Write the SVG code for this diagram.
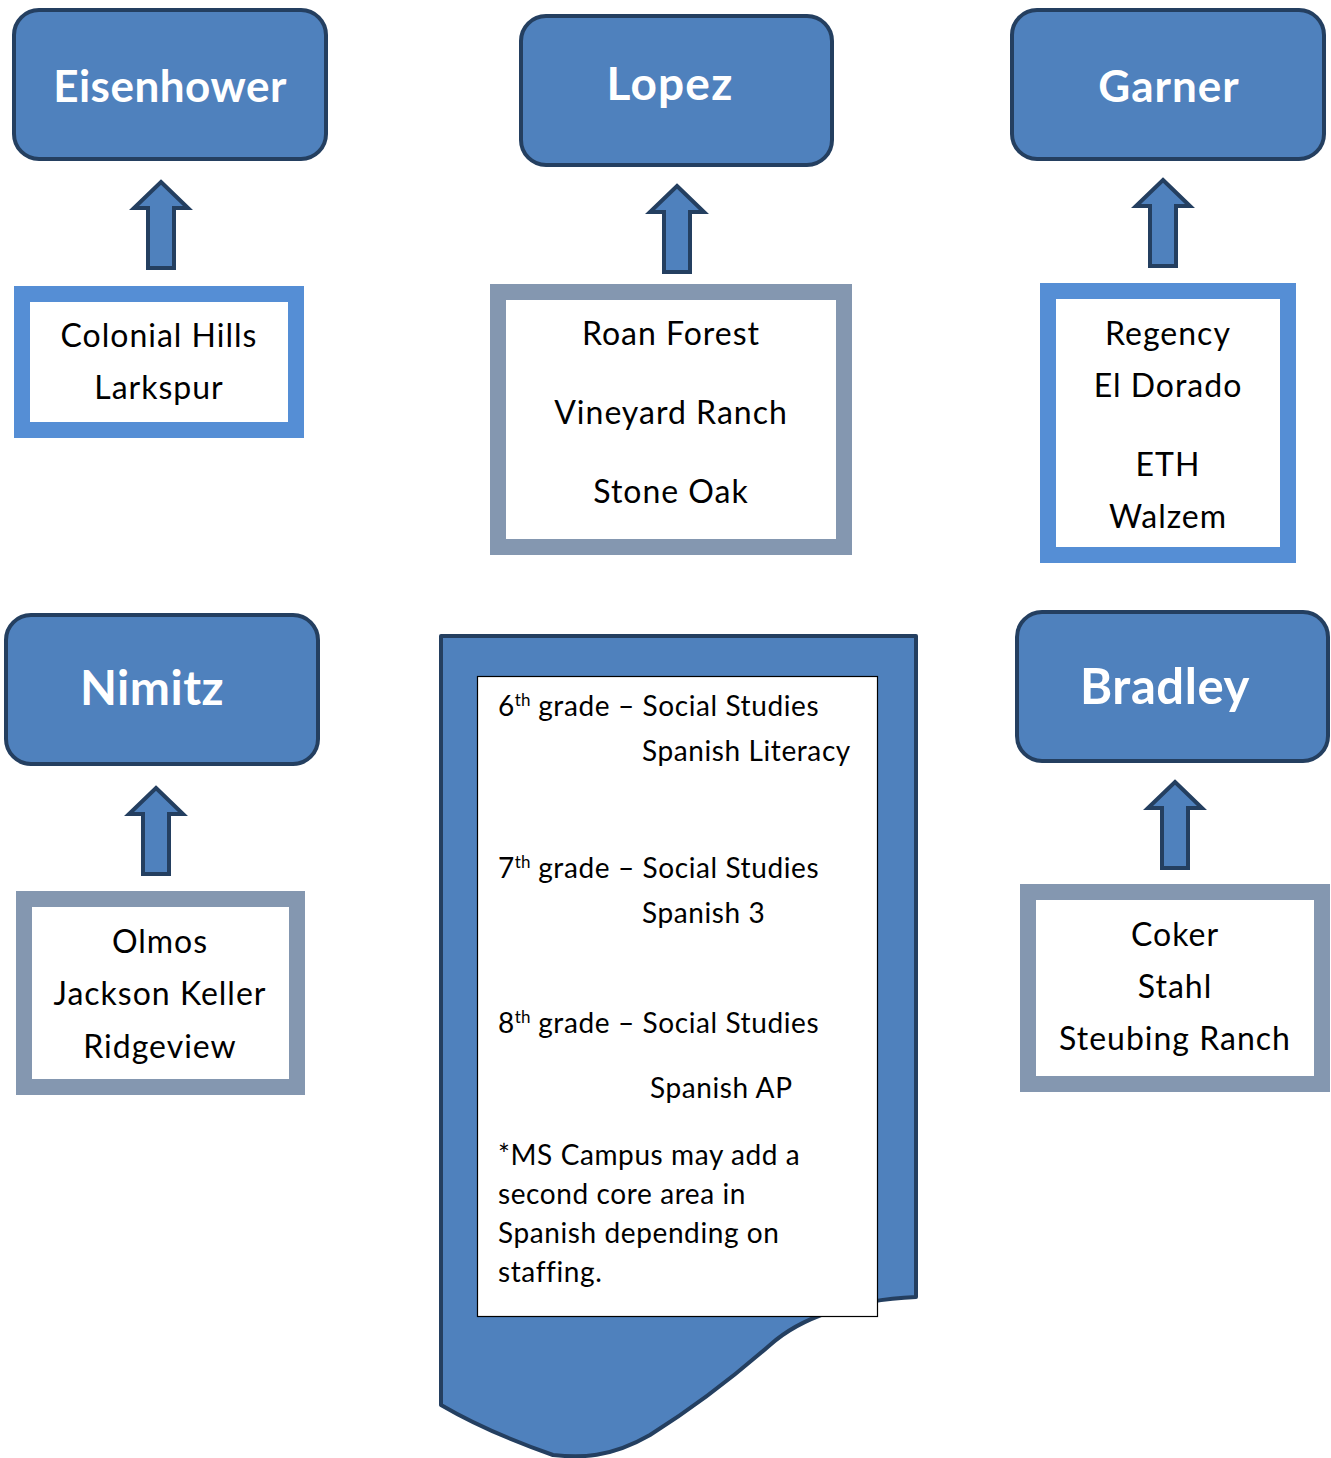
<svg xmlns="http://www.w3.org/2000/svg" width="1331" height="1458" viewBox="0 0 1331 1458">
<style>
.hub{fill:#4F81BD;stroke:#243F60;stroke-width:4}
.title{font-family:Lato,"Open Sans",sans-serif;font-weight:bold;fill:#fff;text-anchor:middle}
.arrow{fill:#4F81BD;stroke:#243F60;stroke-width:4;stroke-linejoin:miter}
.lb{fill:#fff;stroke:#558ED5;stroke-width:16}
.gb{fill:#fff;stroke:#8497B0;stroke-width:16}
.lt{font-family:Lato,"Open Sans",sans-serif;font-size:32px;letter-spacing:1px;fill:#000;text-anchor:middle}
.dt{font-family:Lato,"Open Sans",sans-serif;font-size:28px;letter-spacing:0.6px;fill:#000}
.sup{font-size:17px;letter-spacing:0}
</style>
<defs>
<path id="arr" d="M0,0 L27,26 L13,26 L13,86 L-13,86 L-13,26 L-27,26 Z"/>
</defs>
<rect width="1331" height="1458" fill="#fff"/>

<g id="eisenhower">
<rect class="hub" x="14" y="10" width="312" height="149" rx="25"/>
<text class="title" x="170" y="102" font-size="44" letter-spacing="0.5">Eisenhower</text>
</g>
<g id="lopez">
<rect class="hub" x="521" y="16" width="311" height="149" rx="25"/>
<text class="title" x="670" y="100" font-size="46" letter-spacing="1.2">Lopez</text>
</g>
<g id="garner">
<rect class="hub" x="1012" y="10" width="312" height="149" rx="25"/>
<text class="title" x="1169" y="102" font-size="44" letter-spacing="1">Garner</text>
</g>
<g id="nimitz">
<rect class="hub" x="6" y="615" width="312" height="149" rx="25"/>
<text class="title" x="152" y="705" font-size="48" letter-spacing="0.5">Nimitz</text>
</g>
<g id="bradley">
<rect class="hub" x="1017" y="612" width="311" height="149" rx="25"/>
<text class="title" x="1165" y="704" font-size="49" letter-spacing="0.6">Bradley</text>
</g>

<g id="connectors">
<use href="#arr" class="arrow" transform="translate(161,182)"/>
<use href="#arr" class="arrow" transform="translate(677,186)"/>
<use href="#arr" class="arrow" transform="translate(1163,180)"/>
<use href="#arr" class="arrow" transform="translate(156,788)"/>
<use href="#arr" class="arrow" transform="translate(1175,782)"/>
</g>

<g id="eisenhower-feeders">
<rect class="lb" x="22" y="294" width="274" height="136"/>
<text class="lt" x="159" y="347">Colonial Hills</text>
<text class="lt" x="159" y="399">Larkspur</text>
</g>
<g id="lopez-feeders">
<rect class="gb" x="498" y="292" width="346" height="255"/>
<text class="lt" x="671" y="345">Roan Forest</text>
<text class="lt" x="671" y="424">Vineyard Ranch</text>
<text class="lt" x="671" y="503">Stone Oak</text>
</g>
<g id="garner-feeders">
<rect class="lb" x="1048" y="291" width="240" height="264"/>
<text class="lt" x="1168" y="345">Regency</text>
<text class="lt" x="1168" y="397">El Dorado</text>
<text class="lt" x="1168" y="476">ETH</text>
<text class="lt" x="1168" y="528">Walzem</text>
</g>
<g id="nimitz-feeders">
<rect class="gb" x="24" y="899" width="273" height="188"/>
<text class="lt" x="160" y="953">Olmos</text>
<text class="lt" x="160" y="1005">Jackson Keller</text>
<text class="lt" x="160" y="1058">Ridgeview</text>
</g>
<g id="bradley-feeders">
<rect class="gb" x="1028" y="892" width="294" height="192"/>
<text class="lt" x="1175" y="946">Coker</text>
<text class="lt" x="1175" y="998">Stahl</text>
<text class="lt" x="1175" y="1050">Steubing Ranch</text>
</g>

<g id="courses">
<path d="M441,636 L916,636 L916,1297 C850,1300 800,1318 770,1345 C730,1380 690,1410 650,1435 C610,1458 580,1458 553,1455 C510,1440 470,1422 441,1405 Z" fill="#4F81BD" stroke="#243F60" stroke-width="4" stroke-linejoin="round"/>
<rect x="477.5" y="676.5" width="400" height="640" fill="#fff" stroke="#000" stroke-width="1.2"/>
<text class="dt" x="498" y="716">6<tspan class="sup" dy="-10">th</tspan><tspan dy="10"> grade – Social Studies</tspan></text>
<text class="dt" x="642" y="761">Spanish Literacy</text>
<text class="dt" x="498" y="878">7<tspan class="sup" dy="-10">th</tspan><tspan dy="10"> grade – Social Studies</tspan></text>
<text class="dt" x="642" y="923">Spanish 3</text>
<text class="dt" x="498" y="1033">8<tspan class="sup" dy="-10">th</tspan><tspan dy="10"> grade – Social Studies</tspan></text>
<text class="dt" x="650" y="1098">Spanish AP</text>
<text class="dt" x="498" y="1165">*MS Campus may add a</text>
<text class="dt" x="498" y="1204">second core area in</text>
<text class="dt" x="498" y="1243">Spanish depending on</text>
<text class="dt" x="498" y="1282">staffing.</text>
</g>
</svg>
